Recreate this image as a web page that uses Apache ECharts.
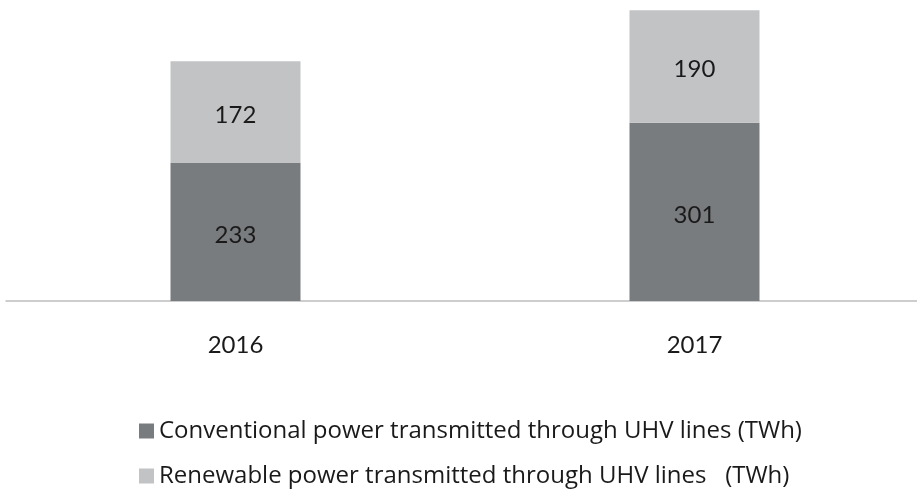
<!DOCTYPE html>
<html><head><meta charset="utf-8">
<script src="https://cdn.jsdelivr.net/npm/echarts@6/dist/echarts.min.js"></script>
<style>html,body{margin:0;padding:0;background:#fff;overflow:hidden;width:917px;height:493px}#c{width:924px;height:493px}</style>
</head><body><div id="c"></div>
<script>
const categories = ['2016', '2017'];
const conventional = [233, 301];
const renewable = [172, 190];
const seriesNames = ['Conventional power transmitted through UHV lines (TWh)', 'Renewable power transmitted through UHV lines   (TWh)'];

const chart = echarts.init(document.getElementById('c'));
const font = 'Lato, "Open Sans", sans-serif';
const lfont = '"Open Sans", sans-serif';
const lbl = {show: true, position: 'inside', color: '#1a1a1a', fontSize: 24, fontFamily: font, offset: [0, 3]};
const legendBase = {
  orient: 'horizontal', left: 134, itemWidth: 15, itemHeight: 15, itemGap: 7,
  icon: 'rect',
  textStyle: {color: '#1a1a1a', fontSize: 24, fontFamily: lfont}
};
chart.setOption({
  animation: false,
  grid: {left: 6, right: 0, top: 5, bottom: 192},
  xAxis: {
    type: 'category', data: categories,
    axisLine: {lineStyle: {color: '#bdbdbd', width: 1.5}},
    axisTick: {show: false},
    axisLabel: {color: '#1a1a1a', fontSize: 24, fontFamily: font, margin: 32}
  },
  yAxis: {type: 'value', min: 0, max: 500, show: false, splitLine: {show: false}},
  legend: [
    Object.assign({}, legendBase, {top: 414, data: [seriesNames[0]]}),
    Object.assign({}, legendBase, {top: 459, data: [seriesNames[1]]})
  ],
  series: [
    {name: seriesNames[0], type: 'bar', stack: 't', data: conventional, barWidth: 130,
     itemStyle: {color: '#797c7e'}, label: lbl},
    {name: seriesNames[1], type: 'bar', stack: 't', data: renewable, barWidth: 130,
     itemStyle: {color: '#c1c3c4'}, label: lbl}
  ]
});
</script></body></html>
